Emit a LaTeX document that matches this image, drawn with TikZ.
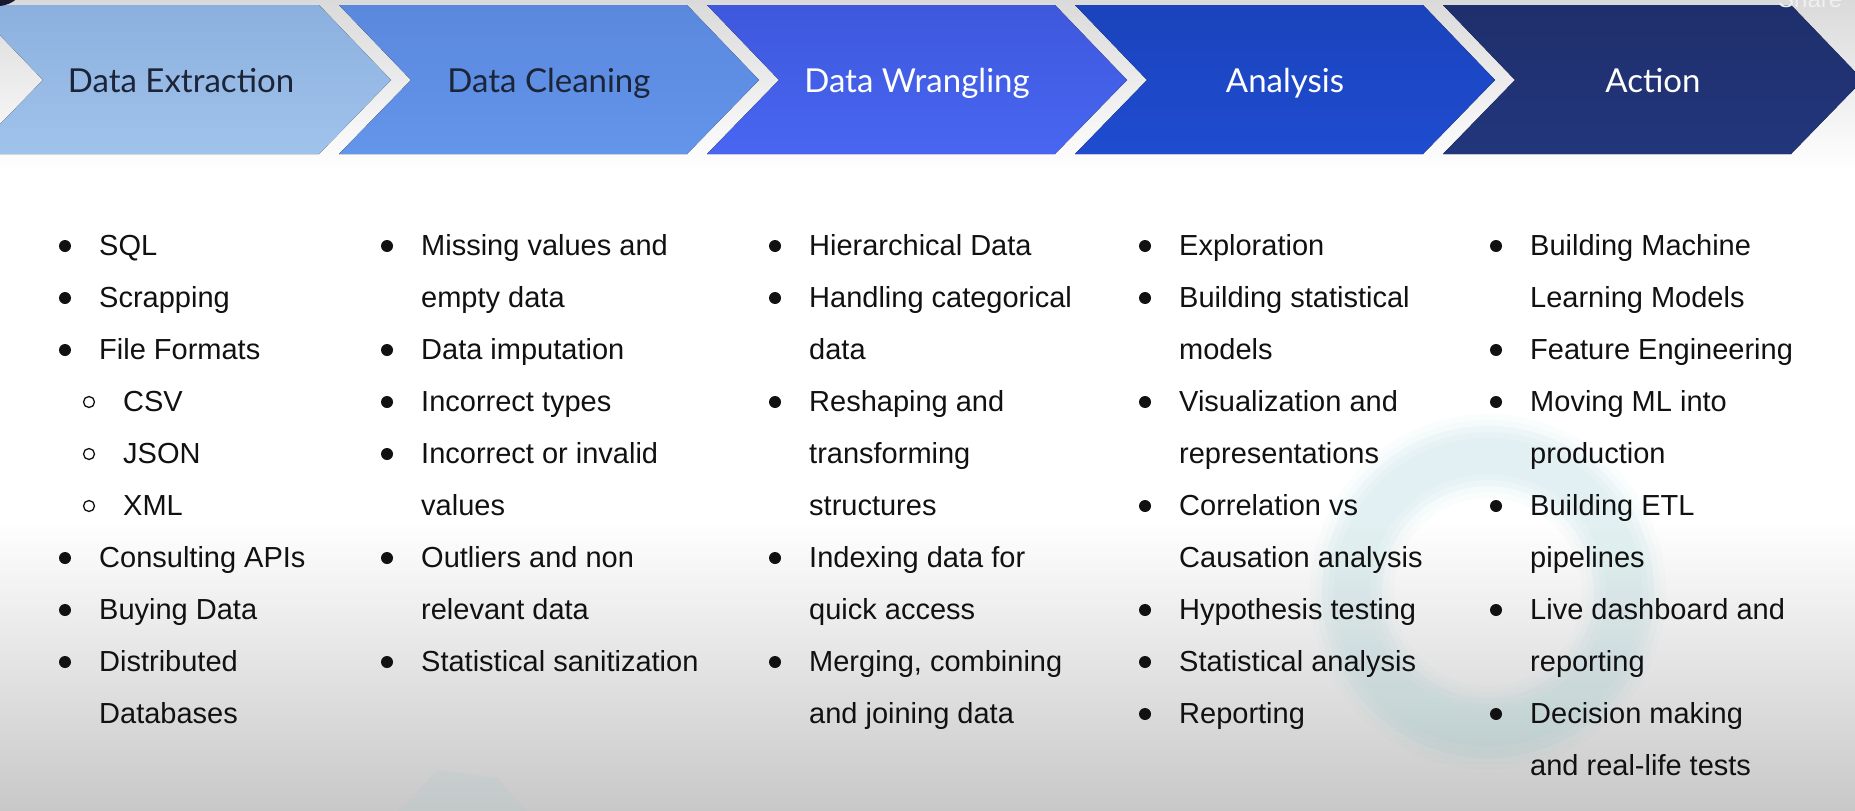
\documentclass[tikz,border=0pt]{standalone}
\usepackage{fontspec}
\setmainfont{Liberation Sans}
\newfontfamily\headfont{Lato}
\definecolor{bodytext}{HTML}{111111}
\definecolor{darkhead}{HTML}{1C2538}
\definecolor{bggrey}{HTML}{C8C8C8}
\definecolor{bgtop}{HTML}{DADADA}
\definecolor{ringteal}{HTML}{7FC3CC}
\definecolor{playerdark}{HTML}{1A1A2E}
\definecolor{cA1}{HTML}{8CB0DE}\definecolor{cA2}{HTML}{A0C3EC}
\definecolor{cB1}{HTML}{5A88DD}\definecolor{cB2}{HTML}{6395EB}
\definecolor{cC1}{HTML}{3E58DC}\definecolor{cC2}{HTML}{4866F2}
\definecolor{cD1}{HTML}{1A43BC}\definecolor{cD2}{HTML}{1F4CD0}
\definecolor{cE1}{HTML}{1F2F6C}\definecolor{cE2}{HTML}{22367C}

% bullet list helpers: name, bullet x, row, text
\newcommand\bitem[4]{%
  \fill[bodytext] (#2,{246+52*#3}) circle[radius=6pt];
  \node[item] (#1) at ({#2+34},{255+52*#3}) {#4};}
\newcommand\citem[4]{%
  \node[item] (#1) at ({#2+34},{255+52*#3}) {#4};}
\newcommand\sitem[4]{%
  \draw[bodytext, line width=1.3pt] ({#2+24},{246+52*#3}) circle[radius=5.5pt];
  \node[item] (#1) at ({#2+58},{255+52*#3}) {#4};}
% chevron: left x, top colour, bottom colour
\newcommand\chev[3]{%
  \fill[top color=#2, bottom color=#3]
    (#1,5) -- ({#1+348},5) -- ({#1+420},80) -- ({#1+348},154)
    -- (#1,154) -- ({#1+72},80) -- cycle;}

\begin{document}
\begin{tikzpicture}[x=1pt, y=-1pt,
  item/.style={anchor=base west, inner sep=0pt, text=bodytext,
    font=\fontsize{29}{34}\selectfont},
  head/.style={anchor=base, inner sep=0pt,
    font=\headfont\fontsize{33}{40}\selectfont},
]
\useasboundingbox (0,0) rectangle (1855,811);

% backdrop
\fill[top color=bgtop, bottom color=white] (0,0) rectangle (1855,170);
\fill[white] (0,170) rectangle (1855,520);
\fill[top color=white, bottom color=bggrey] (0,520) rectangle (1855,811);

% faint watermark ring and shape
\foreach \d/\o in {0/0.07, 6/0.04, -6/0.04, 12/0.03, -12/0.03}{
  \fill[ringteal, opacity=\o, even odd rule]
    (1488,592) circle[radius={166pt+\d pt}] (1488,592) circle[radius={106pt-\d pt}];
}
\fill[ringteal, opacity=0.08] (398,811) -- (438,770) -- (498,778) -- (526,811) -- cycle;

% process chevrons
\chev{-29}{cA1}{cA2}
\chev{339}{cB1}{cB2}
\chev{707}{cC1}{cC2}
\chev{1075}{cD1}{cD2}
\chev{1443}{cE1}{cE2}

\node[head, text=darkhead] (h1) at (181,92) {Data Extraction};
\node[head, text=darkhead] (h2) at (549,92) {Data Cleaning};
\node[head, text=white] (h3) at (917,92) {Data Wrangling};
\node[head, text=white] (h4) at (1285,92) {Analysis};
\node[head, text=white] (h5) at (1653,92) {Action};

% column 1
\bitem{a0}{65}{0}{SQL}
\bitem{a1}{65}{1}{Scrapping}
\bitem{a2}{65}{2}{File Formats}
\sitem{a3}{65}{3}{CSV}
\sitem{a4}{65}{4}{JSON}
\sitem{a5}{65}{5}{XML}
\bitem{a6}{65}{6}{Consulting APIs}
\bitem{a7}{65}{7}{Buying Data}
\bitem{a8}{65}{8}{Distributed}
\citem{a9}{65}{9}{Databases}

% column 2
\bitem{b0}{387}{0}{Missing values and}
\citem{b1}{387}{1}{empty data}
\bitem{b2}{387}{2}{Data imputation}
\bitem{b3}{387}{3}{Incorrect types}
\bitem{b4}{387}{4}{Incorrect or invalid}
\citem{b5}{387}{5}{values}
\bitem{b6}{387}{6}{Outliers and non}
\citem{b7}{387}{7}{relevant data}
\bitem{b8}{387}{8}{Statistical sanitization}

% column 3
\bitem{c0}{775}{0}{Hierarchical Data}
\bitem{c1}{775}{1}{Handling categorical}
\citem{c2}{775}{2}{data}
\bitem{c3}{775}{3}{Reshaping and}
\citem{c4}{775}{4}{transforming}
\citem{c5}{775}{5}{structures}
\bitem{c6}{775}{6}{Indexing data for}
\citem{c7}{775}{7}{quick access}
\bitem{c8}{775}{8}{Merging, combining}
\citem{c9}{775}{9}{and joining data}

% column 4
\bitem{d0}{1145}{0}{Exploration}
\bitem{d1}{1145}{1}{Building statistical}
\citem{d2}{1145}{2}{models}
\bitem{d3}{1145}{3}{Visualization and}
\citem{d4}{1145}{4}{representations}
\bitem{d5}{1145}{5}{Correlation vs}
\citem{d6}{1145}{6}{Causation analysis}
\bitem{d7}{1145}{7}{Hypothesis testing}
\bitem{d8}{1145}{8}{Statistical analysis}
\bitem{d9}{1145}{9}{Reporting}

% column 5
\bitem{e0}{1496}{0}{Building Machine}
\citem{e1}{1496}{1}{Learning Models}
\bitem{e2}{1496}{2}{Feature Engineering}
\bitem{e3}{1496}{3}{Moving ML into}
\citem{e4}{1496}{4}{production}
\bitem{e5}{1496}{5}{Building ETL}
\citem{e6}{1496}{6}{pipelines}
\bitem{e7}{1496}{7}{Live dashboard and}
\citem{e8}{1496}{8}{reporting}
\bitem{e9}{1496}{9}{Decision making}
\citem{e10}{1496}{10}{and real-life tests}

% player overlay bits at the top corners
\fill[playerdark] (-2,-22) circle[radius=28pt];
\node[anchor=base west, inner sep=0pt, text=white!94!black,
  font=\fontsize{24}{28}\selectfont] (share) at (1778,7) {Share};
\end{tikzpicture}
\end{document}
